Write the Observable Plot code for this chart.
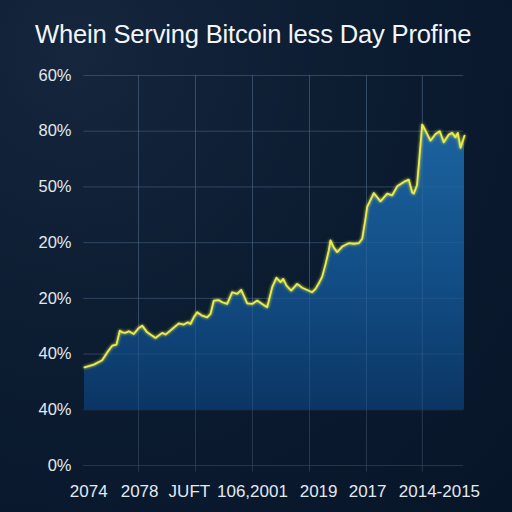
<!DOCTYPE html>
<html>
<head>
<meta charset="utf-8">
<script src="https://cdn.jsdelivr.net/npm/d3@7"></script>
<script src="https://cdn.jsdelivr.net/npm/@observablehq/plot@0.6"></script>
<style>
  html, body { margin: 0; padding: 0; }
  body {
    width: 512px; height: 512px; overflow: hidden;
    background: radial-gradient(ellipse at 15% 10%, #15263d 0%, #0c1c31 45%, #071528 100%);
    font-family: "Liberation Sans", Arial, sans-serif;
  }
  #title {
    height: 60px; box-sizing: border-box; padding-top: 20px; padding-left: 35px;
    color: #f2f5f9; font-size: 25.6px; letter-spacing: -0.2px; white-space: nowrap;
  }
  #chart svg { display: block; }
</style>
</head>
<body>
<div id="title">Whein Serving Bitcoin less Day Profine</div>
<div id="chart"></div>
<script>
const title = "Whein Serving Bitcoin less Day Profine";

// position along the time axis (0–100) and value (gridline units)
const xPos = [0, 2.45, 4.66, 5.97, 7.29, 8.42, 9.29, 9.92, 10.79, 11.66, 12.97, 14.29, 15.18, 16.5, 18.68, 20.45, 21.32, 23.08, 24.82, 26.13, 27.18, 27.89, 28.76, 29.66, 30.97, 32.29, 33.16, 34.03, 35.34, 36.24, 37.55, 38.87, 40.18, 41.24, 41.92, 42.82, 44.13, 45.45, 46.76, 48.08, 49.39, 50.53, 51.58, 52.29, 53.16, 54.39, 55.97, 57.29, 58.61, 59.92, 60.79, 61.66, 62.55, 63.42, 64.29, 64.74, 65.61, 66.5, 67.82, 69.55, 70.87, 72.18, 73.08, 73.95, 74.39, 76.13, 77.89, 79.66, 80.97, 82.29, 84.03, 85.34, 86.24, 86.66, 87.5, 87.97, 88.87, 89.74, 91.05, 92.37, 93.5, 94.55, 95.87, 96.76, 97.63, 98.24, 98.95, 100];
const values = [1.76, 1.81, 1.89, 2.03, 2.15, 2.17, 2.42, 2.39, 2.38, 2.41, 2.36, 2.47, 2.51, 2.39, 2.29, 2.38, 2.35, 2.45, 2.55, 2.53, 2.57, 2.54, 2.66, 2.75, 2.69, 2.66, 2.72, 2.96, 2.97, 2.93, 2.90, 3.11, 3.08, 3.15, 3.05, 2.91, 2.90, 2.96, 2.90, 2.84, 3.20, 3.37, 3.29, 3.35, 3.23, 3.14, 3.26, 3.19, 3.15, 3.11, 3.17, 3.27, 3.39, 3.61, 3.86, 4.04, 3.91, 3.83, 3.93, 3.99, 3.98, 3.99, 4.07, 4.43, 4.64, 4.89, 4.74, 4.88, 4.85, 5.01, 5.09, 5.13, 4.90, 4.88, 5.03, 5.39, 6.12, 6.01, 5.83, 5.95, 6.00, 5.80, 5.94, 5.97, 5.89, 5.97, 5.70, 5.92];
const baseline = 1;

const yTicks = [0, 1, 2, 3, 4, 5, 6, 7];
const yLabels = ["0%", "40%", "40%", "20%", "20%", "50%", "80%", "60%"];
const xTickPos = [1.1, 14.5, 27.6, 44.2, 61.6, 74.5, 93.4];
const xLabels = ["2074", "2078", "JUFT", "106,2001", "2019", "2017", "2014-2015"];
const xGrid = [14.2, 29.2, 44.2, 59.2, 74.2, 88.9];

const data = xPos.map((x, i) => ({x, v: values[i]}));

const svgDefs = () => {
  const ns = "http://www.w3.org/2000/svg";
  const g = document.createElementNS(ns, "g");
  g.innerHTML = `
    <defs>
      <linearGradient id="fillGrad" gradientUnits="userSpaceOnUse" x1="0" y1="60" x2="0" y2="352">
        <stop offset="0" stop-color="#1c64a0"/>
        <stop offset="0.55" stop-color="#124d85"/>
        <stop offset="1" stop-color="#0b3563"/>
      </linearGradient>
      <filter id="glow" x="-5%" y="-20%" width="110%" height="140%">
        <feGaussianBlur stdDeviation="1.4" result="b"/>
        <feMerge><feMergeNode in="b"/><feMergeNode in="SourceGraphic"/></feMerge>
      </filter>
    </defs>`;
  return g;
};

const plot = Plot.plot({
  width: 512,
  height: 452,
  marginTop: 15,
  marginBottom: 47,
  marginLeft: 84,
  marginRight: 48,
  style: {background: "transparent", color: "#e2e9f1", fontSize: "16px", fontFamily: "'Liberation Sans', Arial, sans-serif"},
  x: {domain: [0, 100], label: null},
  y: {domain: [0, 7], label: null},
  marks: [
    svgDefs,
    Plot.ruleY(yTicks, {x1: -0.3, x2: 99.8, stroke: "#3a4c66", strokeOpacity: 0.55, strokeWidth: 1}),
    Plot.ruleX(xGrid, {y1: -0.12, y2: 7, stroke: "#3a4c66", strokeOpacity: 0.6, strokeWidth: 1}),
    Plot.areaY(data, {x: "x", y1: baseline, y2: "v", fill: "url(#fillGrad)", curve: "linear"}),
    Plot.ruleX(xGrid, {y1: baseline, y2: 7, stroke: "#5a86b0", strokeOpacity: 0.25, strokeWidth: 1}),
    Plot.ruleY(yTicks.filter(t => t > baseline), {x1: 0, x2: 99.8, stroke: "#5a86b0", strokeOpacity: 0.18, strokeWidth: 1}),
    Plot.lineY(data, {x: "x", y: "v", stroke: "#e9ec4a", strokeWidth: 1.8, strokeLinejoin: "round", render: (i, s, v, d, c, next) => { const g = next(i, s, v, d, c); g.setAttribute("filter", "url(#glow)"); return g; }}),
    Plot.axisY(yTicks, {tickSize: 0, tickPadding: 13, tickFormat: (d, i) => yLabels[i], fontSize: 16.5, label: null}),
    Plot.axisX(xTickPos, {tickSize: 0, tickPadding: 19, tickFormat: (d, i) => xLabels[i], fontSize: 17, label: null})
  ]
});
document.getElementById("chart").appendChild(plot);
</script>
</body>
</html>
